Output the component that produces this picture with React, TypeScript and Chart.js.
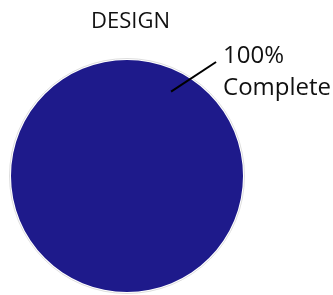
import React, { useEffect, useRef } from "react";
import { Chart, registerables } from "chart.js";

Chart.register(...registerables);

const categories = ["Complete"];
const values = [100];
const titleText = "DESIGN";
const labelLines = ["100%", "Complete"];
const sliceColor = "#1e1a8b";

const labelPlugin = {
  id: "designLabels",
  afterDatasetsDraw(chart: any) {
    const ctx = chart.ctx;
    const arc = chart.getDatasetMeta(0).data[0];
    if (!arc) return;
    const { x, y, outerRadius } = arc.getProps(["x", "y", "outerRadius"], true);
    ctx.save();
    // outer rim
    ctx.strokeStyle = "#dedede";
    ctx.lineWidth = 1;
    ctx.beginPath();
    ctx.arc(x, y, outerRadius + 1.5, 0, Math.PI * 2);
    ctx.stroke();
    // title
    ctx.fillStyle = "#111";
    ctx.font = "22px 'Open Sans'";
    ctx.textAlign = "center";
    ctx.textBaseline = "alphabetic";
    ctx.fillText(titleText, x + 3.5, y - outerRadius - 32);
    // leader line
    const a1 = (-62.4 * Math.PI) / 180;
    const a2 = (-52 * Math.PI) / 180;
    const sx = x + Math.cos(a1) * outerRadius * 0.82;
    const sy = y + Math.sin(a1) * outerRadius * 0.82;
    const ex = x + Math.cos(a2) * outerRadius * 1.247;
    const ey = y + Math.sin(a2) * outerRadius * 1.247;
    ctx.strokeStyle = "#000";
    ctx.lineWidth = 2;
    ctx.beginPath();
    ctx.moveTo(sx, sy);
    ctx.lineTo(ex, ey);
    ctx.stroke();
    ctx.font = "24px 'Open Sans'";
    ctx.textAlign = "left";
    labelLines.forEach((t, i) => {
      ctx.fillText(t, ex + 7, ey + 1 + i * 32);
    });
    ctx.restore();
  },
};

export default function App() {
  const ref = useRef<HTMLCanvasElement>(null);
  useEffect(() => {
    if (!ref.current) return;
    const chart = new Chart(ref.current, {
      type: "pie",
      data: {
        labels: categories,
        datasets: [
          {
            data: values,
            backgroundColor: [sliceColor],
            borderWidth: 0,
          },
        ],
      },
      options: {
        animation: false,
        responsive: true,
        maintainAspectRatio: false,
        layout: { padding: { left: 11, right: 90, top: 60, bottom: 3 } },
        plugins: {
          legend: { display: false },
          tooltip: { enabled: false },
          title: { display: false },
        },
      },
      plugins: [labelPlugin],
    });
    return () => chart.destroy();
  }, []);
  return (
    <div style={{ position: "absolute", left: 0, top: 0, width: 333, height: 295, background: "#fff" }}>
      <canvas ref={ref} />
    </div>
  );
}
